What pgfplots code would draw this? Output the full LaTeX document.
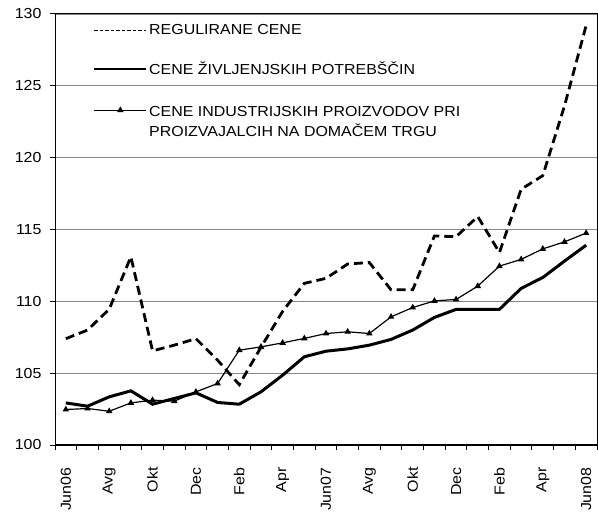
\documentclass[border=0pt]{standalone}
\usepackage{pgfplots}
\pgfplotsset{compat=1.18}
\usepackage{fontspec}
\setmainfont{Liberation Sans}[FakeStretch=1.1]
\definecolor{gridgray}{HTML}{868686}
\begin{document}
\begin{tikzpicture}
\begin{axis}[
  at={(55pt,67pt)}, anchor=south west,
  scale only axis, width=542pt, height=431pt,
  xmin=-0.5, xmax=24.5, ymin=100, ymax=130,
  ytick={100,105,...,130},
  ymajorgrids, grid style={draw=gridgray, line width=1.1pt},
  xtick={-0.5,0.5,...,24.5}, xticklabels={},
  extra x ticks={0,2,...,24},
  extra x tick labels={Jun06,Avg,Okt,Dec,Feb,Apr,Jun07,Avg,Okt,Dec,Feb,Apr,Jun08},
  extra x tick style={major tick length=0pt, xticklabel style={rotate=90, anchor=east}},
  xticklabel shift=19pt,
  tick pos=left, tick align=outside, major tick length=5pt,
  tick style={black, line width=1pt},
  axis line style={line width=1pt},
  tick label style={font=\fontsize{14.5}{17}\selectfont},
  /pgf/number format/assume math mode=true,
  yticklabel style={xshift=-5pt},
  legend style={draw=none, fill=none, at={(rel axis cs:0.065,0.985)}, anchor=north west,
    font=\fontsize{14.5}{20}\selectfont, row sep=22pt},
  legend cell align=left,
  legend image code/.code={\draw[mark repeat=2,mark phase=2,#1] plot coordinates {(0pt,0pt) (26pt,0pt) (52pt,0pt)};},
]
\addlegendimage{black, line width=1.3pt, dash pattern=on 3.5pt off 2pt}
\addlegendentry{REGULIRANE CENE}
\addlegendimage{black, line width=1.8pt}
\addlegendentry{CENE ŽIVLJENJSKIH POTREBŠČIN}
\addlegendimage{black, line width=1.2pt, mark=triangle*, mark size=2.6pt}
\addlegendentry{\begin{tabular}[t]{@{}l@{}}CENE INDUSTRIJSKIH PROIZVODOV PRI\\PROIZVAJALCIH NA DOMAČEM TRGU\end{tabular}}

\addplot[forget plot, black, line width=2.8pt, dash pattern=on 9pt off 5pt] coordinates {
(0,107.4) (1,108.0) (2,109.45) (3,113.1) (4,106.55) (5,106.95) (6,107.4) (7,105.9) (8,104.2) (9,106.8)
(10,109.3) (11,111.25) (12,111.6) (13,112.6) (14,112.7) (15,110.8) (16,110.8) (17,114.55) (18,114.5)
(19,115.9) (20,113.4) (21,117.8) (22,118.75) (23,123.6) (24,129.2)};
\addplot[forget plot, black, line width=3pt] coordinates {
(0,102.93) (1,102.7) (2,103.35) (3,103.77) (4,102.84) (5,103.24) (6,103.63) (7,102.96) (8,102.84)
(9,103.7) (10,104.86) (11,106.14) (12,106.53) (13,106.69) (14,106.95) (15,107.35) (16,108.0)
(17,108.88) (18,109.44) (19,109.44) (20,109.44) (21,110.9) (22,111.66) (23,112.8) (24,113.91)};
\addplot[forget plot, black, line width=1.2pt, mark=triangle*, mark size=2.6pt] coordinates {
(0,102.47) (1,102.54) (2,102.35) (3,102.93) (4,103.12) (5,103.05) (6,103.7) (7,104.28) (8,106.6)
(9,106.83) (10,107.11) (11,107.42) (12,107.76) (13,107.88) (14,107.76) (15,108.92) (16,109.57)
(17,110.03) (18,110.13) (19,111.06) (20,112.45) (21,112.92) (22,113.65) (23,114.14) (24,114.75)};
\draw[black, line width=2.6pt] (rel axis cs:0,1) -- (rel axis cs:0,0) -- (rel axis cs:1,0);
\end{axis}
\pgfresetboundingbox
\path[use as bounding box] (0pt,0pt) rectangle (598pt,512pt);
\end{tikzpicture}
\end{document}
